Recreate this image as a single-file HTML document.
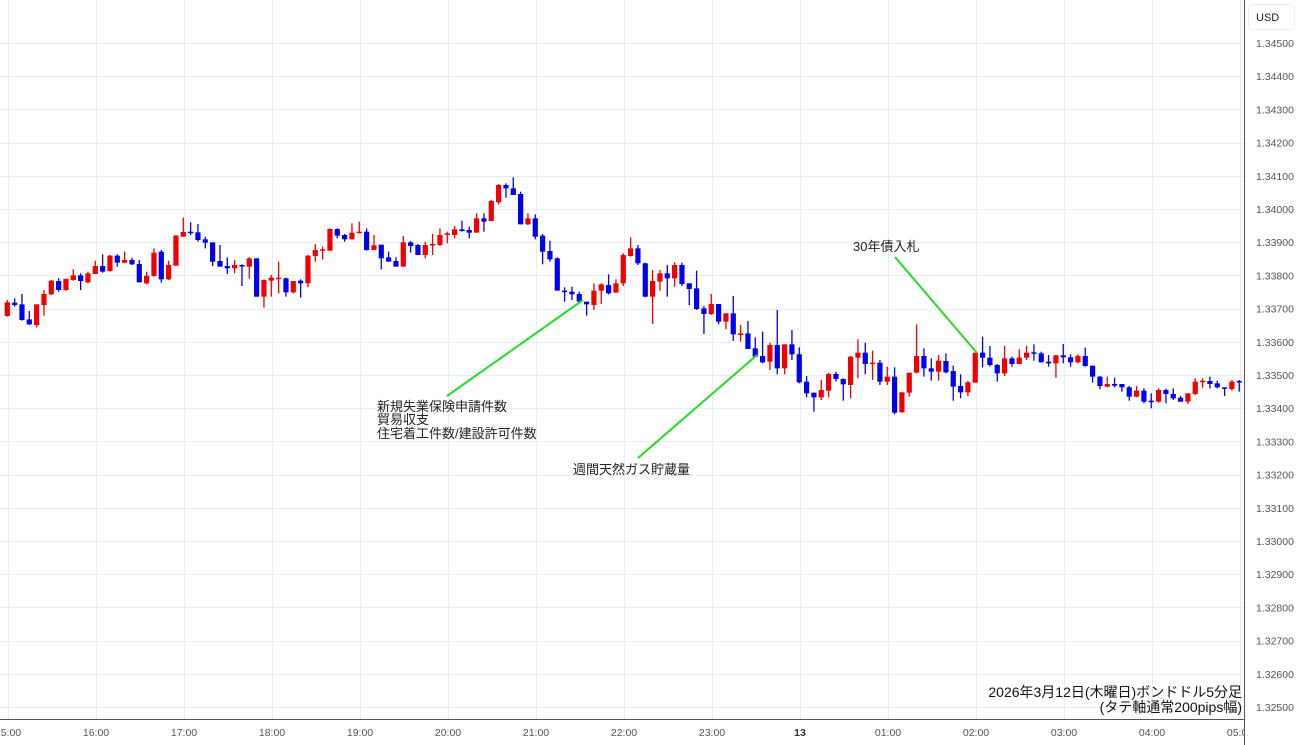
<!DOCTYPE html>
<html><head><meta charset="utf-8">
<style>
html,body{margin:0;padding:0;background:#fff;}
body{width:1300px;height:745px;overflow:hidden;position:relative;font-family:"Liberation Sans","Noto Sans CJK JP",sans-serif;}
svg{position:absolute;left:0;top:0;}
</style></head><body>
<svg id="s" width="1300" height="745" xmlns="http://www.w3.org/2000/svg">
<defs><clipPath id="cl"><rect x="0" y="0" width="1244" height="745"/></clipPath></defs>
<g id="grid" stroke="#e6eef4" stroke-width="1"></g>
<g id="candles"></g>
<g stroke="#22dd22" stroke-width="2">
<line x1="447" y1="396" x2="583" y2="300"/>
<line x1="638" y1="458" x2="757" y2="355"/>
<line x1="895" y1="257" x2="977" y2="353"/>
</g>
<g font-family="Liberation Sans, Noto Sans CJK JP, sans-serif" font-size="13" fill="#222">
<text x="377" y="411">新規失業保険申請件数</text>
<text x="377" y="424">貿易収支</text>
<text x="377" y="438">住宅着工件数/建設許可件数</text>
<text x="573" y="474">週間天然ガス貯蔵量</text>
<text x="853" y="251">30年債入札</text>
</g>
<g font-family="Liberation Sans, Noto Sans CJK JP, sans-serif" font-size="14" fill="#111" text-anchor="end">
<text x="1242" y="697">2026年3月12日(木曜日)ボンドドル5分足</text>
<text x="1242" y="712">(タテ軸通常200pips幅)</text>
</g>
<rect x="1244" y="0" width="56" height="745" fill="#fff"/>
<line x1="0" y1="719.5" x2="1244" y2="719.5" stroke="#555" stroke-width="1"/>
<line x1="1244.5" y1="0" x2="1244.5" y2="745" stroke="#555" stroke-width="1"/>
<rect x="1248.5" y="4.5" width="46" height="25" rx="4" fill="#fff" stroke="#eee"/>
<text x="1256" y="21" font-size="11" fill="#222" font-family="Liberation Sans, sans-serif">USD</text>
<g id="plabels" font-size="10.5" fill="#555" font-family="Liberation Sans, sans-serif"></g>
<g id="tlabels" clip-path="url(#cl)" font-size="10.5" fill="#555" font-family="Liberation Sans, sans-serif" text-anchor="middle"></g>
</svg>
<script>
var NS="http://www.w3.org/2000/svg";
function el(p,t,a,txt){var e=document.createElementNS(NS,t);for(var k in a)e.setAttribute(k,a[k]);if(txt!==undefined)e.textContent=txt;p.appendChild(e);return e;}
var grid=document.getElementById('grid'),pl=document.getElementById('plabels'),tl=document.getElementById('tlabels');
for(var k=0;k<=20;k++){var y=43+k*33.2;var yy=Math.round(y)+0.5;
 el(grid,'line',{x1:0,y1:yy,x2:1244,y2:yy});
 el(pl,'text',{x:1256,y:y+4},(1.345-k*0.001).toFixed(5));}
var tls=["15:00","16:00","17:00","18:00","19:00","20:00","21:00","22:00","23:00","13","01:00","02:00","03:00","04:00","05:00"];
for(var h=0;h<15;h++){var x=8+h*88;var xx=Math.round(x)+0.5;
 el(grid,'line',{x1:xx,y1:0,x2:xx,y2:719});
 var t=el(tl,'text',{x:x,y:736},tls[h]);if(tls[h]=="13"){t.setAttribute('font-weight','bold');t.setAttribute('fill','#333');}}
var g1=[[397,438,390,440,'r'],[398,405,385,410,'b'],[403,450,372,452,'b'],[448,463,423,465,'b'],[403,465,403,472,'r'],[372,405,360,437,'r'],[332,373,330,375,'r'],[333,360,325,365,'b'],[327,360,325,362,'r'],[316,330,298,332,'r'],[316,333,310,360,'b'],[310,337,305,340,'r'],[288,312,272,312,'r'],[288,305,253,308,'b'],[257,303,255,305,'r'],[257,278,253,290,'b'],[270,278,245,280,'r'],[270,283,263,285,'b'],[282,337,270,337,'b'],[317,340,305,343,'r'],[248,318,235,320,'r'],[245,328,240,338,'b'],[285,328,272,330,'r'],[197,287,195,287,'r'],[186,200,143,200,'r'],[185,189,157,195,'b'],[187,210,162,215,'b'],[208,218,200,235,'b'],[217,275,217,288,'b'],[273,290,225,290,'b'],[288,295,262,312,'b'],[285,295,270,310,'r'],[285,287,283,348,'b'],[265,290,262,326,'r'],[265,380,265,380,'b'],[330,380,328,413,'r'],[323,332,315,380,'r'],[323,326,275,370,'r'],[325,367,323,380,'b'],[333,367,333,370,'r'],[332,340,328,383,'b'],[257,340,255,352,'r'],
[240,258,222,275,'r'],[238,242,230,268,'r'],[177,242,175,242,'r'],[177,197,175,205,'b'],[195,208,192,215,'b'],[188,208,160,208,'r'],[185,188,155,190,'r'],[185,240,175,242,'b'],[226,240,195,240,'r'],[224,265,224,298,'b'],[262,275,245,275,'b'],[273,290,262,290,'b'],[217,290,198,290,'r'],[217,228,213,248,'b'],[225,255,222,255,'b'],[225,255,215,265,'r'],[222,226,192,255,'r'],[195,225,175,228,'r'],[190,195,185,220,'r'],[178,195,168,205,'r'],[178,183,152,185,'b'],[180,188,170,205,'b'],[145,188,130,188,'r'],[145,155,130,185,'b'],[93,153,90,153,'r'],[45,97,42,103,'r'],[45,55,40,83,'b'],[55,75,22,75,'b'],[72,163,65,163,'b'],[145,163,130,165,'r'],[145,200,133,208,'b'],[197,245,192,283,'b'],[243,268,212,275,'b'],[265,362,262,362,'b'],[362,365,352,395,'b'],[365,373,350,390,'b'],[372,395,365,400,'b'],[395,403,395,437,'b'],[362,405,340,420,'r'],[343,362,340,402,'r'],[345,370,313,373,'b'],[340,368,328,368,'r']];
var g3=[[75,160,70,168,'r'],[55,78,22,80,'r'],[55,100,45,105,'b'],[100,200,98,202,'b'],[153,200,120,282,'r'],[130,155,120,182,'r'],[130,145,105,200,'b'],[105,145,97,170,'r'],[105,162,98,168,'b'],[160,177,160,225,'b'],[175,237,122,240,'b'],[235,252,228,312,'b'],[222,252,192,255,'r'],[222,275,222,283,'b'],[250,275,250,298,'r'],[250,313,198,333,'b'],[310,315,285,335,'r'],[310,357,273,357,'b'],[355,380,322,382,'b'],[378,397,305,400,'b'],[345,395,338,420,'r'],[345,415,240,433,'b'],[343,415,343,433,'r'],[343,373,300,390,'b'],[373,457,352,460,'b'],[455,490,438,502,'b'],[488,502,488,545,'b'],[480,502,450,510,'r'],[432,482,428,502,'r'],[432,447,425,455,'b'],[447,463,445,512,'b'],[380,465,378,505,'r'],[368,383,328,445,'r'],[368,402,338,433,'b'],[398,402,362,450,'r'],[398,455,390,465,'b'],[440,455,410,465,'r'],[440,548,412,553,'b'],[487,547,487,548,'r'],[428,488,428,500,'r'],[378,428,283,430,'r'],[378,415,355,440,'b']];
var g4=[[175,185,145,212,'b'],[152,185,135,212,'r'],[153,187,130,190,'b'],[183,230,167,272,'b'],[228,247,193,265,'b'],[217,247,213,258,'r'],[128,218,128,218,'r'],[128,143,80,172,'b'],[143,165,108,170,'b'],[165,190,162,215,'b'],[145,190,108,198,'r'],[145,162,140,170,'b'],[143,162,118,162,'r'],[128,143,108,150,'r'],[127,130,103,152,'b'],[130,157,125,158,'b'],[155,160,135,170,'b'],[136,160,135,203,'r'],[136,142,102,160,'b'],[142,157,133,170,'b'],[138,157,133,160,'r'],[138,168,113,170,'b'],[167,200,167,218,'b'],[200,228,198,238,'b'],[222,230,200,232,'r'],[222,227,203,232,'b'],[222,232,222,245,'b'],[232,260,228,272,'b'],[242,260,228,262,'r'],[242,275,235,280,'b'],[272,275,250,295,'b'],[240,275,235,278,'r'],[240,252,236,280,'b'],[252,265,235,270,'b'],[263,275,258,275,'b'],[250,275,250,282,'r'],[215,252,205,255,'r'],[212,215,205,233,'r'],[213,222,200,235,'b'],[220,232,212,235,'b'],[232,234,232,258,'b'],[215,237,210,242,'r'],[213,215,210,245,'b']];
var C=document.getElementById('candles');
function draw(arr,start,off){for(var j=0;j<arr.length;j++){var d=arr[j],i=start+j;var x=7.3+7.333*i;
 var col=d[4]=='r'?'#f00000':'#0000f0';
 var bt=off+d[0]/3,bb=off+d[1]/3,wt=off+d[2]/3,wb=off+d[3]/3;
 if(x>1244)continue;
 el(C,'line',{x1:x,y1:wt,x2:x,y2:wb,stroke:col,'stroke-width':1.3});
 el(C,'rect',{x:x-2.6,y:bt,width:5.2,height:Math.max(1.5,bb-bt),fill:col});}}
draw(g1,0,170);draw(g3,84,230);draw(g4,126,310);
</script>
</body></html>
